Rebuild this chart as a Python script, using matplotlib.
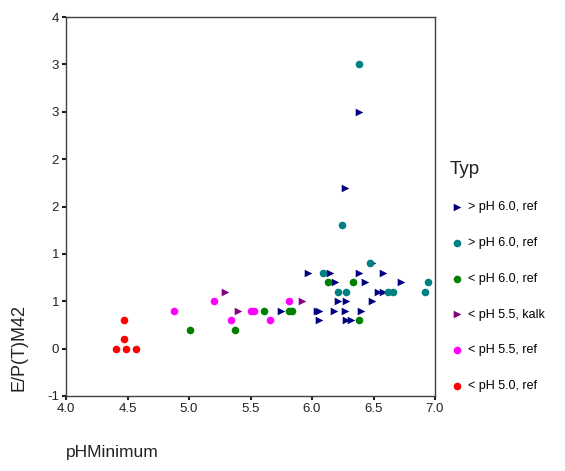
import numpy as np
import matplotlib
matplotlib.use("Agg")
import matplotlib.pyplot as plt
from matplotlib.ticker import FixedLocator, FuncFormatter

plt.rcParams["font.family"] = ["Liberation Sans", "DejaVu Sans"]

# ── Data ──────────────────────────────────────────────────────────────────────
navy_x = [6.38, 6.27, 6.49, 5.97, 6.15, 6.38, 6.58, 6.19, 6.43, 6.72, 6.54, 6.58,
          6.21, 6.28, 6.49, 6.04, 6.06, 6.18, 6.27, 6.40, 6.06, 6.28, 6.32, 5.75]
navy_y = [2.5, 1.7, 0.9, 0.8, 0.8, 0.8, 0.8, 0.7, 0.7, 0.7, 0.6, 0.6,
          0.5, 0.5, 0.5, 0.4, 0.4, 0.4, 0.4, 0.4, 0.3, 0.3, 0.3, 0.4]

teal_x = [6.38, 6.24, 6.47, 6.09, 6.21, 6.28, 6.62, 6.66, 6.92, 6.94]
teal_y = [3.0, 1.3, 0.9, 0.8, 0.6, 0.6, 0.6, 0.6, 0.6, 0.7]

green_x = [5.01, 5.37, 5.61, 5.81, 5.84, 6.13, 6.33, 6.38]
green_y = [0.2, 0.2, 0.4, 0.4, 0.4, 0.7, 0.7, 0.3]

purple_x = [5.29, 5.40, 5.92]
purple_y = [0.6, 0.4, 0.5]

magenta_x = [4.88, 5.20, 5.34, 5.50, 5.53, 5.66, 5.81]
magenta_y = [0.4, 0.5, 0.3, 0.4, 0.4, 0.3, 0.5]

red_x = [4.47, 4.47, 4.41, 4.49, 4.57]
red_y = [0.3, 0.1, 0.0, 0.0, 0.0]

groups = [
    ("> pH 6.0, ref",  navy_x,    navy_y,    "#000080", ">"),
    ("> pH 6.0, ref",  teal_x,    teal_y,    "#008080", "o"),
    ("< pH 6.0, ref",  green_x,   green_y,   "#008000", "o"),
    ("< pH 5.5, kalk", purple_x,  purple_y,  "#800080", ">"),
    ("< pH 5.5, ref",  magenta_x, magenta_y, "#FF00FF", "o"),
    ("< pH 5.0, ref",  red_x,     red_y,     "#FF0000", "o"),
]

x_ticks = [4.0, 4.5, 5.0, 5.5, 6.0, 6.5, 7.0]
y_ticks = [-0.5, 0.0, 0.5, 1.0, 1.5, 2.0, 2.5, 3.0, 3.5]

# ── Plot ──────────────────────────────────────────────────────────────────────
fig = plt.figure(figsize=(5.65, 4.71), dpi=100)
ax = fig.add_axes([66 / 565, 1 - 396 / 471, 369 / 565, 379 / 471])

for label, xs, ys, color, marker in groups:
    ax.scatter(xs, ys, s=30, c=color, marker=marker, linewidths=0, label=label)

ax.set_xlim(4.0, 7.0)
ax.set_ylim(-0.5, 3.5)
ax.xaxis.set_major_locator(FixedLocator(x_ticks))
ax.yaxis.set_major_locator(FixedLocator(y_ticks))
ax.xaxis.set_major_formatter(FuncFormatter(lambda v, p: f"{v:.1f}"))
# integer labels, rounded half away from zero
ax.yaxis.set_major_formatter(FuncFormatter(
    lambda v, p: f"{int(np.sign(v) * np.floor(abs(v) + 0.5))}"))

for sp in ax.spines.values():
    sp.set_color("#404040")
    sp.set_linewidth(1.0)
ax.tick_params(direction="out", length=3, width=1.5, color="#202020",
               labelsize=9.5, labelcolor="#222222", pad=2)

ax.set_ylabel("E/P(T)M42", fontsize=13, color="#222222")
ax.yaxis.set_label_coords(-0.103, 0.127)
ax.set_xlabel("pHMinimum", fontsize=12.5, color="#222222", loc="left")
ax.xaxis.set_label_coords(0.0, -0.13)

leg = ax.legend(loc="upper left", bbox_to_anchor=(441 / 565, 1 - 152 / 471),
                bbox_transform=fig.transFigure, frameon=False, fontsize=9,
                title="Typ", title_fontsize=13.5, labelspacing=1.9,
                handletextpad=0.3, handlelength=1.2, borderpad=0.2,
                scatterpoints=1)
leg._legend_box.align = "left"
leg.get_title().set_color("#222222")

fig.savefig("out.png", dpi=100)
